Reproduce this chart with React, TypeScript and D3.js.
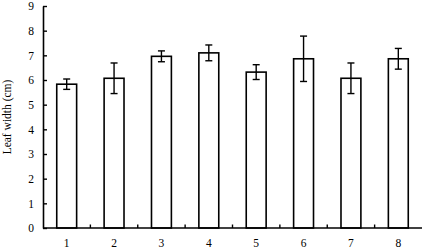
import * as d3 from "d3";
import { useEffect, useRef } from "react";

// data
const categories = ["1", "2", "3", "4", "5", "6", "7", "8"];
const meanWidth = [5.83, 6.07, 6.96, 7.1, 6.32, 6.86, 6.07, 6.86];
const errWidth = [0.21, 0.62, 0.22, 0.32, 0.3, 0.92, 0.62, 0.42];
const yTicks = [0, 1, 2, 3, 4, 5, 6, 7, 8, 9];

const W = 425;
const H = 252;

const App = () => {
  const ref = useRef<SVGSVGElement>(null);

  // margins around the plot area
  const margin = { top: 6, bottom: 24, left: 43, right: 3 };

  useEffect(() => {
    const svg = d3.select(ref.current);
    svg.selectAll("*").remove();

    const x = d3
      .scaleBand()
      .domain(categories)
      .range([margin.left, W - margin.right])
      .paddingInner(0.58)
      .paddingOuter(0.29);

    const y = d3
      .scaleLinear()
      .domain([0, 9])
      .range([H - margin.bottom, margin.top]);

    const font = "'Liberation Serif', 'Times New Roman', serif";
    const step = x.step();
    const x0 = margin.left;

    // bars
    svg
      .selectAll(".bar")
      .data(categories)
      .enter()
      .append("rect")
      .attr("class", "bar")
      .attr("x", (d) => x(d)!)
      .attr("y", (d, i) => y(meanWidth[i]))
      .attr("width", x.bandwidth())
      .attr("height", (d, i) => y(0) - y(meanWidth[i]))
      .attr("fill", "#fff")
      .attr("stroke", "#000")
      .attr("stroke-width", 1.6);

    // error bars
    const eb = svg
      .selectAll(".err")
      .data(categories)
      .enter()
      .append("g")
      .attr("class", "err")
      .attr("transform", (d) => `translate(${x(d)! + x.bandwidth() / 2},0)`);
    eb.append("line")
      .attr("y1", (d, i) => y(meanWidth[i] + errWidth[i]))
      .attr("y2", (d, i) => y(meanWidth[i] - errWidth[i]))
      .attr("stroke", "#000")
      .attr("stroke-width", 1.4);
    eb.append("line")
      .attr("x1", -3.5)
      .attr("x2", 3.5)
      .attr("y1", (d, i) => y(meanWidth[i] + errWidth[i]))
      .attr("y2", (d, i) => y(meanWidth[i] + errWidth[i]))
      .attr("stroke", "#000")
      .attr("stroke-width", 1.4);
    eb.append("line")
      .attr("x1", -3.5)
      .attr("x2", 3.5)
      .attr("y1", (d, i) => y(meanWidth[i] - errWidth[i]))
      .attr("y2", (d, i) => y(meanWidth[i] - errWidth[i]))
      .attr("stroke", "#000")
      .attr("stroke-width", 1.4);

    // y axis, ticks pointing inward
    const yAxis = d3
      .axisLeft(y)
      .tickValues(yTicks)
      .tickFormat(d3.format("d"))
      .tickSizeInner(-4)
      .tickSizeOuter(0)
      .tickPadding(9);
    const gy = svg
      .append("g")
      .attr("transform", `translate(${margin.left},0)`)
      .call(yAxis);
    gy.select(".domain").attr("stroke-width", 1.6);
    gy.selectAll("line").attr("stroke-width", 1.4);
    gy.selectAll("text")
      .attr("font-family", font)
      .attr("font-size", 11.5)
      .attr("fill", "#000");

    // x axis line
    svg
      .append("line")
      .attr("x1", margin.left)
      .attr("x2", W - margin.right)
      .attr("y1", y(0))
      .attr("y2", y(0))
      .attr("stroke", "#000")
      .attr("stroke-width", 1.6);

    // x tick marks between categories
    svg
      .selectAll(".xt")
      .data(d3.range(1, categories.length))
      .enter()
      .append("line")
      .attr("class", "xt")
      .attr("x1", (d) => x0 + d * step)
      .attr("x2", (d) => x0 + d * step)
      .attr("y1", y(0))
      .attr("y2", y(0) - 3.5)
      .attr("stroke", "#000")
      .attr("stroke-width", 1.4);

    // x labels
    svg
      .selectAll(".xl")
      .data(categories)
      .enter()
      .append("text")
      .attr("class", "xl")
      .attr("x", (d) => x(d)! + x.bandwidth() / 2)
      .attr("y", y(0) + 19)
      .attr("text-anchor", "middle")
      .attr("font-family", font)
      .attr("font-size", 11.5)
      .text((d) => d);

    // y label
    svg
      .append("text")
      .attr("transform", `translate(11,${(y(0) + y(9)) / 2}) rotate(-90)`)
      .attr("text-anchor", "middle")
      .attr("font-family", font)
      .attr("font-size", 11.5)
      .text("Leaf width (cm)");
  }, []);

  return (
    <svg
      ref={ref}
      width={W}
      height={H}
      style={{ position: "absolute", left: 0, top: 0, background: "#fff" }}
    ></svg>
  );
};

export default App;
